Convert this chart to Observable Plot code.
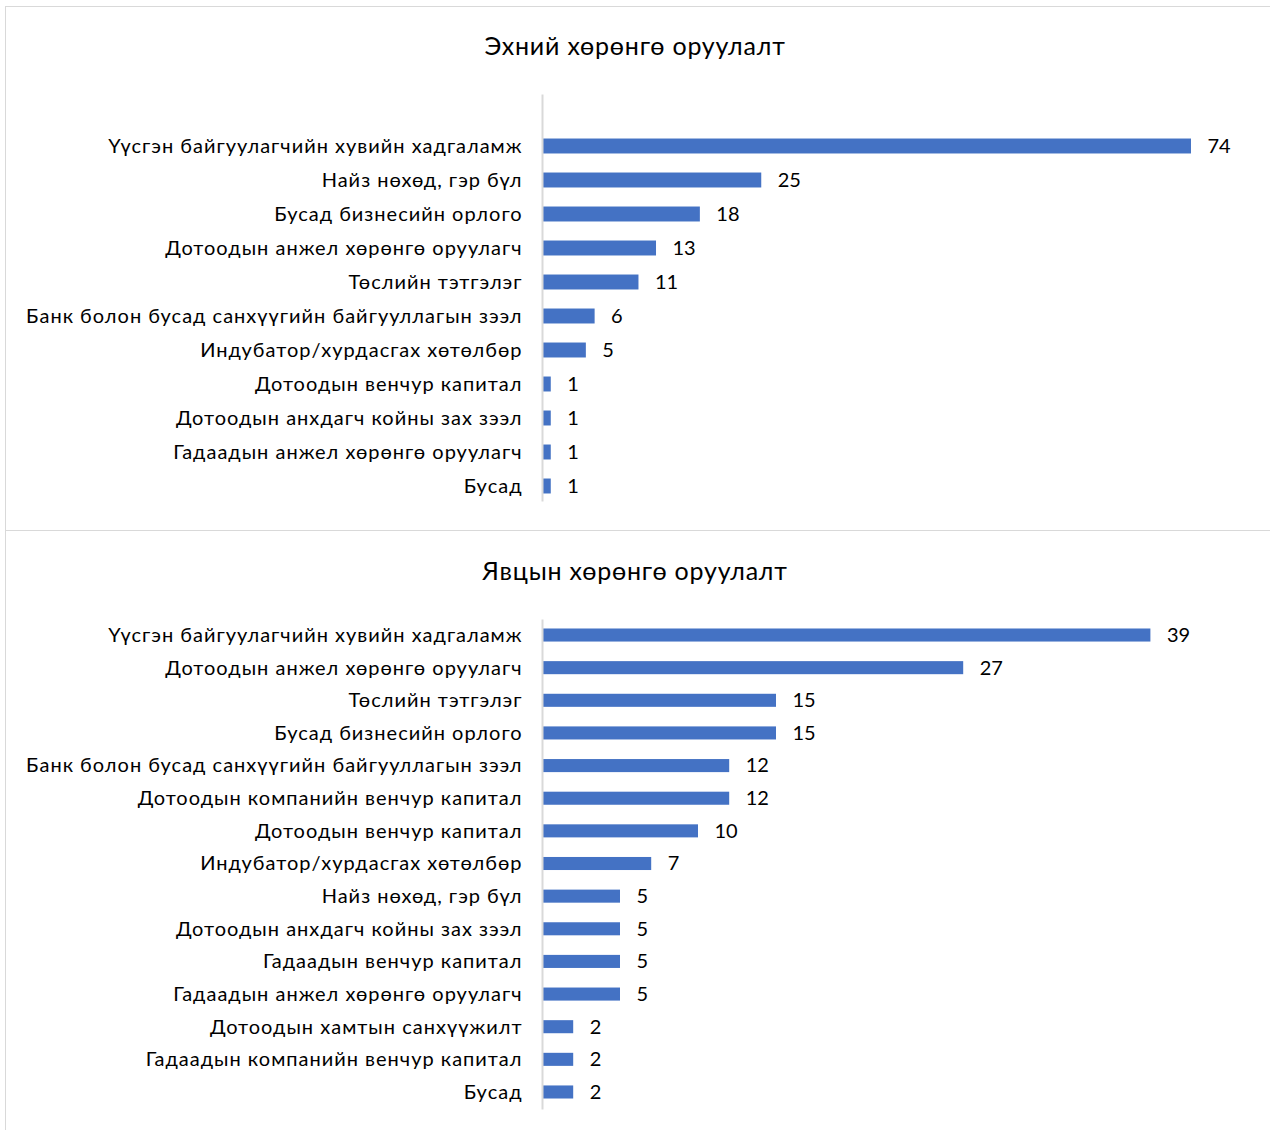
<!DOCTYPE html>
<html>
<head>
<meta charset="utf-8">
<script src="https://cdn.jsdelivr.net/npm/d3@7"></script>
<script src="https://cdn.jsdelivr.net/npm/@observablehq/plot@0.6"></script>
<style>
  html, body { margin: 0; padding: 0; background: #fff; }
  body { width: 1270px; height: 1130px; position: relative; overflow: hidden; font-family: Lato, "Open Sans", sans-serif; }
  .panel { position: absolute; border: 1px solid #d9d9d9; box-sizing: border-box; background: #fff; }
  .title { position: absolute; left: 0; width: 1270px; text-align: center; font-size: 25px; letter-spacing: 0.8px; color: #000; }
  .chart { position: absolute; left: 0; }
  g[aria-label="y-axis tick label"] text { letter-spacing: 1px; }
</style>
</head>
<body>
<div class="panel" style="left:5px; top:6px; width:1300px; height:525px;"></div>
<div class="panel" style="left:5px; top:530px; width:1300px; height:640px;"></div>
<div class="title" style="top:30px;">Эхний хөрөнгө оруулалт</div>
<div class="title" style="top:555px;">Явцын хөрөнгө оруулалт</div>
<div id="c1" class="chart" style="top:0px;"></div>
<div id="c2" class="chart" style="top:0px;"></div>
<script>
// Top chart: Эхний хөрөнгө оруулалт
const initialCategories = [
  "Үүсгэн байгуулагчийн хувийн хадгаламж",
  "Найз нөхөд, гэр бүл",
  "Бусад бизнесийн орлого",
  "Дотоодын анжел хөрөнгө оруулагч",
  "Төслийн тэтгэлэг",
  "Банк болон бусад санхүүгийн байгууллагын зээл",
  "Индубатор/хурдасгах хөтөлбөр",
  "Дотоодын венчур капитал",
  "Дотоодын анхдагч койны зах зээл",
  "Гадаадын анжел хөрөнгө оруулагч",
  "Бусад"
];
const initialValues = [74, 25, 18, 13, 11, 6, 5, 1, 1, 1, 1];

// Bottom chart: Явцын хөрөнгө оруулалт
const ongoingCategories = [
  "Үүсгэн байгуулагчийн хувийн хадгаламж",
  "Дотоодын анжел хөрөнгө оруулагч",
  "Төслийн тэтгэлэг",
  "Бусад бизнесийн орлого",
  "Банк болон бусад санхүүгийн байгууллагын зээл",
  "Дотоодын компанийн венчур капитал",
  "Дотоодын венчур капитал",
  "Индубатор/хурдасгах хөтөлбөр",
  "Найз нөхөд, гэр бүл",
  "Дотоодын анхдагч койны зах зээл",
  "Гадаадын венчур капитал",
  "Гадаадын анжел хөрөнгө оруулагч",
  "Дотоодын хамтын санхүүжилт",
  "Гадаадын компанийн венчур капитал",
  "Бусад"
];
const ongoingValues = [39, 27, 15, 15, 12, 12, 10, 7, 5, 5, 5, 5, 2, 2, 2];

const barColor = "#4472C4";

function makeChart(categories, values, opts) {
  const data = categories.map((c, i) => ({cat: c, value: values[i]}));
  return Plot.plot({
    width: 1270,
    height: opts.height,
    marginLeft: 542,
    marginRight: 0,
    marginTop: opts.axisTop,
    marginBottom: opts.height - opts.axisBottom,
    style: {fontFamily: "Lato, 'Open Sans', sans-serif", fontSize: "20px", color: "#000", background: "transparent", overflow: "visible"},
    x: {domain: [0, opts.xMax], range: [542, 542 + opts.xMax * opts.pxPerUnit], axis: null},
    y: {domain: categories, range: opts.yRange, paddingInner: opts.padding, paddingOuter: opts.padding / 2, align: 0.5, round: false, axis: null, label: null},
    marks: [
      Plot.barX(data, {x: "value", y: "cat", fill: barColor}),
      Plot.text(data, {x: "value", y: "cat", text: d => String(d.value), dx: 16, textAnchor: "start", fill: "#000", fontSize: 20}),
      Plot.axisY({tickSize: 0, tickPadding: 20, fontSize: 20, fill: "#000", label: null}),
      Plot.frame({anchor: "left", stroke: "#d9d9d9", strokeWidth: 2})
    ]
  });
}

document.getElementById("c1").appendChild(makeChart(initialCategories, initialValues, {
  height: 530, axisTop: 95, axisBottom: 500, yRange: [129, 503], padding: 0.56,
  xMax: 80, pxPerUnit: 8.77
}));
document.getElementById("c2").appendChild(makeChart(ongoingCategories, ongoingValues, {
  height: 1130, axisTop: 620, axisBottom: 1108, yRange: [618.7, 1108.3], padding: 0.6,
  xMax: 42, pxPerUnit: 15.6
}));
</script>
</body>
</html>
